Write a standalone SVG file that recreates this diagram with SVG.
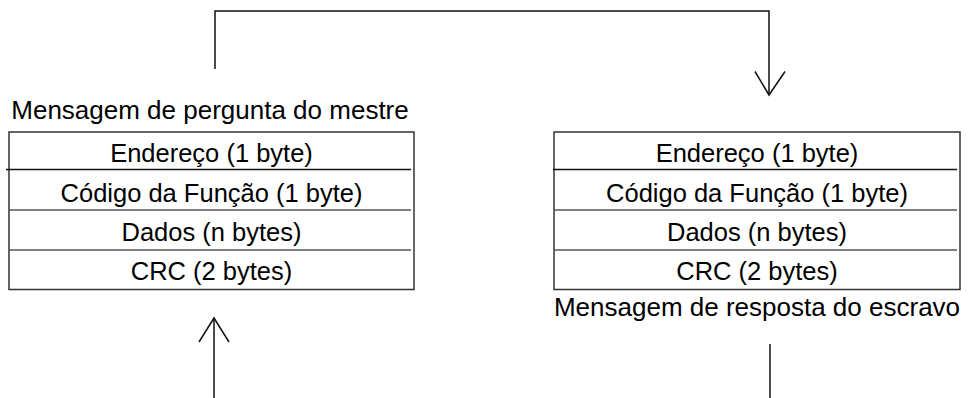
<svg xmlns="http://www.w3.org/2000/svg" width="973" height="398" viewBox="0 0 973 398">
<style>
  text { font-family: "Liberation Sans", Arial, sans-serif; font-size: 25.5px; fill: #000; text-anchor: middle; }
  .title { font-size: 26px; }
  .box { fill: #fff; stroke: #333; stroke-width: 1.5; }
  .div1 { stroke: #111; stroke-width: 1.5; }
  .div { stroke: #555; stroke-width: 1.5; }
  .conn { fill: none; stroke: #111; stroke-width: 1.5; }
</style>
<rect width="973" height="398" fill="#fff"/>
<g id="connectors">
  <path class="conn" d="M215 69 V11 H769 V95"/>
  <path class="conn" d="M755 71.5 L769 95 L785 71.5"/>
  <path class="conn" d="M214 398 V318"/>
  <path class="conn" d="M199 342 L214 318 L229 342"/>
  <path class="conn" d="M770 344 V398"/>
</g>
<g id="master">
  <text class="title" x="210" y="119">Mensagem de pergunta do mestre</text>
  <rect class="box" x="9" y="132" width="405" height="157.5"/>
  <line class="div1" x1="6" y1="169.5" x2="411" y2="169.5"/>
  <line class="div" x1="9" y1="210" x2="411" y2="210"/>
  <line class="div" x1="9" y1="250" x2="411" y2="250"/>
  <text x="211.5" y="162">Endereço (1 byte)</text>
  <text x="211.5" y="201.5">Código da Função (1 byte)</text>
  <text x="211.5" y="240.5">Dados (n bytes)</text>
  <text x="211.5" y="280">CRC (2 bytes)</text>
</g>
<g id="slave">
  <rect class="box" x="554" y="132" width="406" height="157.5"/>
  <line class="div1" x1="553" y1="169.5" x2="957" y2="169.5"/>
  <line class="div" x1="554" y1="210" x2="957" y2="210"/>
  <line class="div" x1="554" y1="250" x2="957" y2="250"/>
  <text x="757" y="162">Endereço (1 byte)</text>
  <text x="757" y="201.5">Código da Função (1 byte)</text>
  <text x="757" y="240.5">Dados (n bytes)</text>
  <text x="757" y="280">CRC (2 bytes)</text>
  <text class="title" x="757" y="316">Mensagem de resposta do escravo</text>
</g>
</svg>
